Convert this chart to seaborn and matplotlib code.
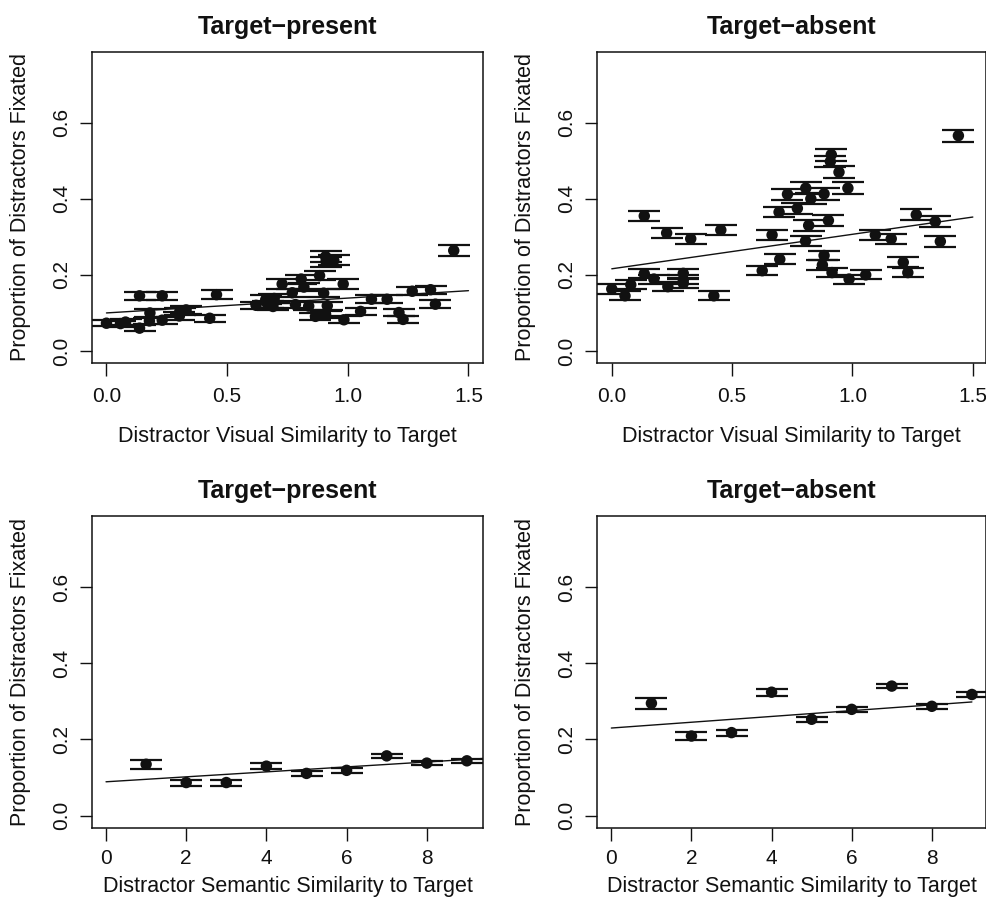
import matplotlib
matplotlib.use("Agg")
import matplotlib.pyplot as plt
import seaborn as sns
import pandas as pd

# Visual similarity vs proportion fixated, target-present trials
vis_x_tp = [0.000, 0.058, 0.079, 0.137, 0.137, 0.180, 0.178, 0.231, 0.231, 0.302,
            0.304, 0.330, 0.428, 0.456, 0.620, 0.660, 0.668, 0.690, 0.695, 0.728,
            0.770, 0.783, 0.807, 0.818, 0.838, 0.866, 0.883, 0.900, 0.908, 0.910,
            0.915, 0.908, 0.942, 0.981, 0.984, 1.053, 1.098, 1.163, 1.212, 1.229,
            1.267, 1.343, 1.363, 1.439]
vis_y_tp = [0.073, 0.072, 0.076, 0.145, 0.060, 0.100, 0.079, 0.145, 0.081, 0.092,
            0.104, 0.108, 0.086, 0.148, 0.120, 0.135, 0.122, 0.117, 0.138, 0.176,
            0.153, 0.122, 0.189, 0.168, 0.118, 0.091, 0.198, 0.152, 0.248, 0.235,
            0.119, 0.096, 0.238, 0.176, 0.082, 0.104, 0.136, 0.136, 0.101, 0.083,
            0.157, 0.161, 0.123, 0.264]
vis_err_tp = [0.008, 0.008, 0.008, 0.011, 0.008, 0.010, 0.009, 0.011, 0.009, 0.010,
              0.010, 0.010, 0.009, 0.011, 0.010, 0.011, 0.010, 0.010, 0.011, 0.012,
              0.011, 0.010, 0.012, 0.011, 0.010, 0.009, 0.012, 0.011, 0.014, 0.013,
              0.010, 0.009, 0.013, 0.012, 0.009, 0.010, 0.011, 0.011, 0.010, 0.009,
              0.011, 0.011, 0.010, 0.014]

# Visual similarity, target-absent trials
vis_x_ta = [0.000, 0.055, 0.079, 0.135, 0.135, 0.175, 0.228, 0.233, 0.297, 0.297,
            0.297, 0.328, 0.424, 0.453, 0.625, 0.666, 0.698, 0.695, 0.730, 0.771,
            0.806, 0.827, 0.818, 0.805, 0.882, 0.900, 0.882, 0.875, 0.912, 0.908,
            0.944, 0.915, 0.981, 0.986, 1.055, 1.095, 1.161, 1.211, 1.230, 1.265,
            1.344, 1.365, 1.440]
vis_y_ta = [0.163, 0.145, 0.174, 0.355, 0.203, 0.189, 0.310, 0.169, 0.204, 0.187,
            0.178, 0.295, 0.145, 0.318, 0.211, 0.305, 0.241, 0.365, 0.412, 0.375,
            0.428, 0.400, 0.330, 0.289, 0.413, 0.343, 0.251, 0.226, 0.516, 0.498,
            0.470, 0.206, 0.428, 0.189, 0.200, 0.305, 0.295, 0.233, 0.206, 0.358,
            0.340, 0.288, 0.566]
vis_err_ta = [0.012, 0.012, 0.012, 0.014, 0.012, 0.012, 0.013, 0.012, 0.012, 0.012,
              0.012, 0.013, 0.012, 0.014, 0.012, 0.014, 0.013, 0.014, 0.015, 0.014,
              0.015, 0.014, 0.014, 0.013, 0.015, 0.014, 0.013, 0.013, 0.016, 0.015,
              0.015, 0.012, 0.015, 0.012, 0.012, 0.013, 0.013, 0.013, 0.012, 0.014,
              0.014, 0.014, 0.016]

# Semantic similarity (rating 1-9)
sem_x = [1, 2, 3, 4, 5, 6, 7, 8, 9]
sem_y_tp = [0.135, 0.087, 0.087, 0.130, 0.111, 0.119, 0.157, 0.138, 0.144]
sem_err_tp = [0.012, 0.008, 0.008, 0.007, 0.006, 0.006, 0.006, 0.006, 0.006]
sem_y_ta = [0.295, 0.209, 0.218, 0.324, 0.253, 0.279, 0.340, 0.287, 0.318]
sem_err_ta = [0.015, 0.010, 0.008, 0.009, 0.007, 0.007, 0.006, 0.006, 0.006]

# Fitted regression lines: (intercept, slope, x end)
fit_vis_tp = (0.100, 0.039, 1.5)
fit_vis_ta = (0.216, 0.0907, 1.5)
fit_sem_tp = (0.089, 0.0065, 9.4)
fit_sem_ta = (0.230, 0.0076, 9.0)

sns.set_style("ticks")
plt.rcParams["font.family"] = ["Liberation Sans", "DejaVu Sans"]

INK = "#111111"
YLAB = "Proportion of Distractors Fixated"


def draw_panel(ax, x, y, err, fit, title, xlabel, xlim, xticks, xticklabels,
               title_pad, xlabel_y, xtick_pad):
    df = pd.DataFrame({"x": x, "y": y, "err": err})
    ax.errorbar(df["x"], df["y"], yerr=df["err"], fmt="none", ecolor=INK,
                elinewidth=1.3, capsize=11.8, capthick=1.6, zorder=2)
    sns.scatterplot(data=df, x="x", y="y", ax=ax, color=INK, s=68,
                    edgecolor="none", zorder=3, legend=False)
    a, b, xend = fit
    line = pd.DataFrame({"x": [0, xend], "y": [a, a + b * xend]})
    sns.lineplot(data=line, x="x", y="y", ax=ax, color=INK, linewidth=1.0, zorder=4)

    ax.set_xlim(*xlim)
    ax.set_ylim(-0.0315, 0.786)
    ax.set_xticks(xticks)
    ax.set_xticklabels(xticklabels)
    ax.set_yticks([0.0, 0.2, 0.4, 0.6])
    ax.set_yticklabels(["0.0", "0.2", "0.4", "0.6"])
    for lab in ax.get_yticklabels():
        lab.set_rotation(90)
        lab.set_va("center")
    ax.tick_params(axis="both", direction="out", length=9, width=1.0,
                   color=INK, labelsize=15, labelcolor=INK)
    ax.tick_params(axis="x", pad=xtick_pad)
    ax.tick_params(axis="y", pad=6)
    for sp in ax.spines.values():
        sp.set_visible(True)
        sp.set_color(INK)
        sp.set_linewidth(1.1)

    ax.set_title(title, fontsize=18, fontweight="bold", pad=title_pad, color=INK)
    ax.set_xlabel(xlabel, fontsize=15.5, color=INK)
    ax.set_ylabel(YLAB, fontsize=15.5, color=INK)
    ax.xaxis.set_label_coords(0.5, xlabel_y)
    ax.yaxis.set_label_coords(-0.157, 0.5)


fig = plt.figure(figsize=(9.87, 9.0), dpi=100)
ax_tl = fig.add_axes([0.0932, 0.5967, 0.3961, 0.3456])
ax_tr = fig.add_axes([0.6052, 0.5967, 0.3941, 0.3456])
ax_bl = fig.add_axes([0.0932, 0.0803, 0.3961, 0.3463])
ax_br = fig.add_axes([0.6052, 0.0803, 0.3941, 0.3463])

vis_ticks = [0.0, 0.5, 1.0, 1.5]
vis_labels = ["0.0", "0.5", "1.0", "1.5"]
sem_ticks = [0, 2, 4, 6, 8]
sem_labels = ["0", "2", "4", "6", "8"]

draw_panel(ax_tl, vis_x_tp, vis_y_tp, vis_err_tp, fit_vis_tp, "Target\u2212present",
           "Distractor Visual Similarity to Target", (-0.06, 1.56), vis_ticks, vis_labels,
           13, -0.203, 8)
draw_panel(ax_tr, vis_x_ta, vis_y_ta, vis_err_ta, fit_vis_ta, "Target\u2212absent",
           "Distractor Visual Similarity to Target", (-0.06, 1.556), vis_ticks, vis_labels,
           13, -0.203, 8)
draw_panel(ax_bl, sem_x, sem_y_tp, sem_err_tp, fit_sem_tp, "Target\u2212present",
           "Distractor Semantic Similarity to Target", (-0.35, 9.40), sem_ticks, sem_labels,
           13, -0.155, 6)
draw_panel(ax_br, sem_x, sem_y_ta, sem_err_ta, fit_sem_ta, "Target\u2212absent",
           "Distractor Semantic Similarity to Target", (-0.35, 9.36), sem_ticks, sem_labels,
           13, -0.155, 6)

fig.savefig("out.png", dpi=100, facecolor="white")
